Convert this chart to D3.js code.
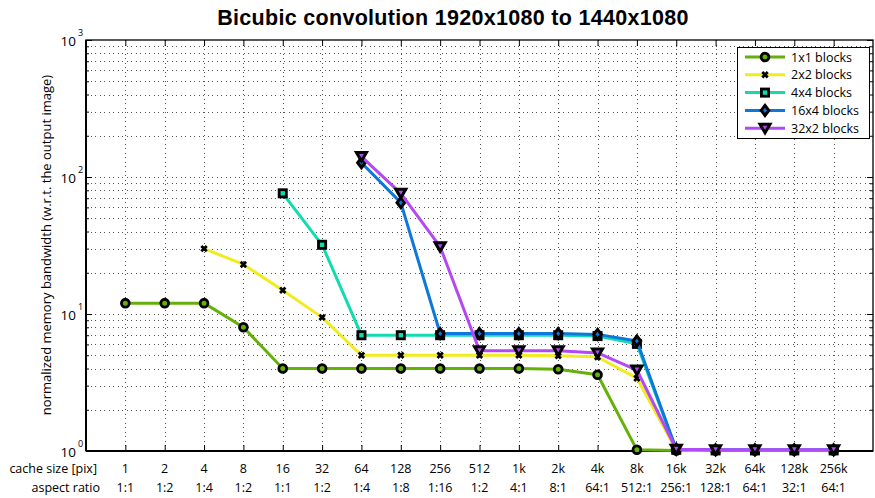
<!DOCTYPE html>
<html><head><meta charset="utf-8">
<script src="https://cdn.jsdelivr.net/npm/d3@7"></script>
<style>body{margin:0;background:#fff}</style>
</head><body><svg id="c" width="875" height="498"></svg>
<script>
const cacheSizes = ["1","2","4","8","16","32","64","128","256","512","1k","2k","4k","8k","16k","32k","64k","128k","256k"];
const aspectRatios = ["1:1","1:2","1:4","1:2","1:1","1:2","1:4","1:8","1:16","1:2","4:1","8:1","64:1","512:1","256:1","128:1","64:1","32:1","64:1"];
const seriesNames = ["1x1 blocks","2x2 blocks","4x4 blocks","16x4 blocks","32x2 blocks"];
const seriesColors = ["#66b00a","#f0ec1e","#10dcb0","#0c78dc","#b448f4"];
const seriesMarkers = ["circle","x","square","diamond","triangle"];
const blocks1x1  = [12,12,12,8,4,4,4,4,4,4,4,3.95,3.6,1.02,1.01,1.01,1.01,1.01,1.01];
const blocks2x2  = [null,null,30,23,14.9,9.45,5,5,5,5,5,4.95,4.85,3.4,1.02,1.01,1.01,1.01,1.01];
const blocks4x4  = [null,null,null,null,76,32,7,7,7,7,7,7,6.9,6.05,1.02,1.01,1.01,1.01,1.01];
const blocks16x4 = [null,null,null,null,null,null,127,65,7.2,7.2,7.2,7.2,7.1,6.35,1.03,1.02,1.02,1.02,1.02];
const blocks32x2 = [null,null,null,null,null,null,141,76,31,5.4,5.4,5.4,5.2,3.9,1.03,1.02,1.02,1.02,1.02];
const seriesValues = [blocks1x1, blocks2x2, blocks4x4, blocks16x4, blocks32x2];
const yMajorTicks = [1,10,100,1000];
const yTickExponents = ["0","1","2","3"];

const svg = d3.select("#c");
const L = 86, R = 873, T = 40, B = 451;
const x = d3.scaleLinear().domain([0, cacheSizes.length + 1]).range([L, R]);
const y = d3.scaleLog().domain([1, 1000]).range([B, T]);
const font = "'Open Sans', 'Noto Sans', sans-serif";

const minorVals = [];
for (let d = 1; d < 1000; d *= 10) for (let k = 2; k <= 9; k++) minorVals.push(d * k);

const g = svg.append("g");
const gridStyle = sel => sel.attr("stroke", "#555").attr("stroke-width", 1).attr("stroke-dasharray", "1,3.5").attr("shape-rendering","crispEdges");
g.selectAll(".vg").data(cacheSizes).join("line")
  .attr("x1", (d,i) => Math.round(x(i+1))+0.5).attr("x2", (d,i) => Math.round(x(i+1))+0.5)
  .attr("y1", T).attr("y2", B).call(gridStyle);
g.selectAll(".hg").data(yMajorTicks.slice(1,3).concat(minorVals)).join("line")
  .attr("x1", L).attr("x2", R)
  .attr("y1", d => Math.round(y(d))+0.5).attr("y2", d => Math.round(y(d))+0.5).call(gridStyle);

const xb = d3.axisBottom(x).tickValues(d3.range(1, cacheSizes.length+1)).tickSize(-6).tickFormat("");
const xt = d3.axisTop(x).tickValues(d3.range(1, cacheSizes.length+1)).tickSize(-6).tickFormat("");
const yl = d3.axisLeft(y).tickValues(yMajorTicks).tickSize(-6).tickFormat("");
const ylm = d3.axisLeft(y).tickValues(minorVals).tickSize(-3).tickFormat("");
const yr = d3.axisRight(y).tickValues(yMajorTicks).tickSize(-6).tickFormat("");
const yrm = d3.axisRight(y).tickValues(minorVals).tickSize(-3).tickFormat("");
const styleAxis = a => { a.select(".domain").remove(); a.selectAll("line").attr("stroke","#000").attr("stroke-width",1); };
svg.append("g").attr("transform",`translate(0,${B})`).call(xb).call(styleAxis);
svg.append("g").attr("transform",`translate(0,${T})`).call(xt).call(styleAxis);
svg.append("g").attr("transform",`translate(${L},0)`).call(yl).call(styleAxis);
svg.append("g").attr("transform",`translate(${L},0)`).call(ylm).call(styleAxis);
svg.append("g").attr("transform",`translate(${R},0)`).call(yr).call(styleAxis);
svg.append("g").attr("transform",`translate(${R},0)`).call(yrm).call(styleAxis);
svg.append("rect").attr("x",L).attr("y",T).attr("width",R-L).attr("height",B-T)
  .attr("fill","none").attr("stroke","#000").attr("stroke-width",1.3);
svg.append("line").attr("x1",L).attr("x2",R).attr("y1",B).attr("y2",B).attr("stroke","#000").attr("stroke-width",2);
svg.append("line").attr("x1",L).attr("x2",L).attr("y1",T).attr("y2",B).attr("stroke","#000").attr("stroke-width",2);

yMajorTicks.forEach((v,i) => {
  svg.append("text").attr("x", 76).attr("y", y(v)+6).attr("text-anchor","end")
    .attr("font-family", font).attr("font-size", 13.5).attr("fill","#000").text("10");
  svg.append("text").attr("x", 78).attr("y", y(v)-4).attr("font-family", font).attr("font-size", 9).text(yTickExponents[i]);
});

svg.selectAll(".cs").data(cacheSizes).join("text")
  .attr("x",(d,i)=>x(i+1)).attr("y",473).attr("text-anchor","middle")
  .attr("font-family",font).attr("font-size",12.5).text(d=>d);
svg.selectAll(".ar").data(aspectRatios).join("text")
  .attr("x",(d,i)=>x(i+1)).attr("y",492).attr("text-anchor","middle")
  .attr("font-family",font).attr("font-size",12.5).text(d=>d);
svg.append("text").attr("x",97).attr("y",473).attr("text-anchor","end").attr("font-family",font).attr("font-size",12.5).text("cache size [pix]");
svg.append("text").attr("x",100).attr("y",492).attr("text-anchor","end").attr("font-family",font).attr("font-size",12.5).text("aspect ratio");

svg.append("text").attr("transform","translate(51,245) rotate(-90)").attr("text-anchor","middle")
  .attr("font-family",font).attr("font-size",13).text("normalized memory bandwidth (w.r.t. the output image)");

svg.append("text").attr("x",453).attr("y",25).attr("text-anchor","middle")
  .attr("font-family","'Liberation Sans', Arial, sans-serif").attr("font-weight","bold").attr("font-size",21.5)
  .attr("letter-spacing",0.3)
  .text("Bicubic convolution 1920x1080 to 1440x1080");

function drawMarker(sel, type, color, cx, cy) {
  if (type === "circle") {
    sel.append("circle").attr("cx",cx).attr("cy",cy).attr("r",3.9).attr("fill",color).attr("stroke","#000").attr("stroke-width",2.8);
  } else if (type === "x") {
    const s = 2.7;
    sel.append("path").attr("d",`M${cx-s},${cy-s}L${cx+s},${cy+s}M${cx-s},${cy+s}L${cx+s},${cy-s}`)
      .attr("stroke","#000").attr("stroke-width",2.8).attr("fill","none");
  } else if (type === "square") {
    sel.append("rect").attr("x",cx-3.6).attr("y",cy-3.6).attr("width",7.2).attr("height",7.2).attr("fill",color).attr("stroke","#000").attr("stroke-width",2.8);
  } else if (type === "diamond") {
    sel.append("path").attr("d",`M${cx},${cy-5}L${cx+3.8},${cy}L${cx},${cy+5}L${cx-3.8},${cy}Z`)
      .attr("fill",color).attr("stroke","#000").attr("stroke-width",3).attr("stroke-linejoin","miter");
  } else if (type === "triangle") {
    sel.append("path").attr("d",`M${cx-5},${cy-4}L${cx+5},${cy-4}L${cx},${cy+4.5}Z`)
      .attr("fill",color).attr("stroke","#000").attr("stroke-width",3).attr("stroke-linejoin","miter");
  }
}

const line = d3.line().defined(d => d.v != null).x(d => x(d.i+1)).y(d => y(d.v));
seriesValues.forEach((vals, si) => {
  const pts = vals.map((v,i)=>({i, v}));
  const sg = svg.append("g");
  sg.append("path").datum(pts).attr("d", line).attr("fill","none")
    .attr("stroke", seriesColors[si]).attr("stroke-width", 3).attr("stroke-linejoin","round");
  pts.filter(p=>p.v!=null).forEach(p => drawMarker(sg, seriesMarkers[si], seriesColors[si], x(p.i+1), y(p.v)));
});

const lg = svg.append("g");
lg.append("rect").attr("x",737.5).attr("y",47.5).attr("width",132).attr("height",91).attr("fill","#fff").attr("stroke","#000").attr("stroke-width",1);
seriesNames.forEach((n, si) => {
  const ly = 57 + si*17.8;
  lg.append("line").attr("x1",745).attr("x2",785).attr("y1",ly).attr("y2",ly).attr("stroke",seriesColors[si]).attr("stroke-width",3);
  drawMarker(lg, seriesMarkers[si], seriesColors[si], 765, ly);
  lg.append("text").attr("x",791).attr("y",ly+4.5).attr("font-family",font).attr("font-size",12.5).text(n);
});
</script></body></html>
